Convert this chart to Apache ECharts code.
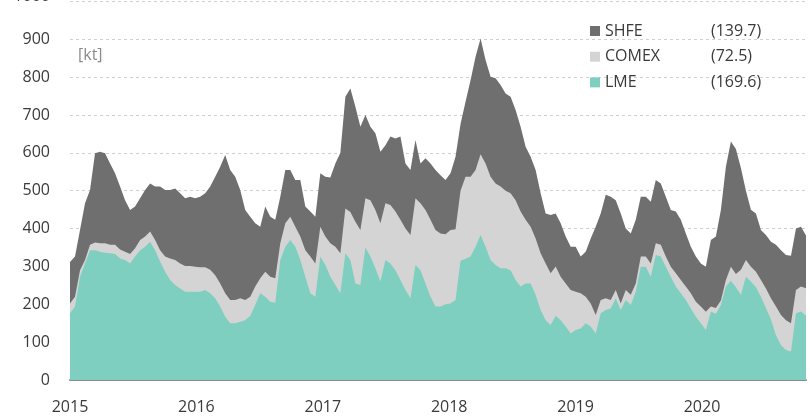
<!DOCTYPE html>
<html lang="en">
<head>
  <meta charset="UTF-8">
  <title>Stocks LME / COMEX / SHFE</title>
  <script src="https://cdn.jsdelivr.net/npm/echarts@6/dist/echarts.min.js"></script>
  <style>
    html, body { margin: 0; padding: 0; background: #fff; }
    #chart { width: 810px; height: 418px; }
  </style>
</head>
<body>
  <div id="chart"></div>
  <script>
    // sampling: regular steps from start of 2015 to end of Oct 2020
    const firstYear = 2015;
    const lastYear = 2020.823;
    const yearTicks = [2015, 2016, 2017, 2018, 2019, 2020];

    // stocks in kt
    const lme = [176, 194, 273, 308, 343, 343, 339, 336, 335, 333, 321, 317, 308, 326, 343, 352, 365, 343, 313, 286,
      264, 251, 242, 233, 233, 233, 233, 238, 229, 216, 194, 167, 150, 150, 154, 158, 170, 198, 229, 220,
      207, 204, 317, 352, 370, 352, 317, 273, 229, 220, 326, 304, 273, 251, 229, 335, 317, 255, 251, 350,
      326, 295, 260, 317, 308, 290, 264, 238, 216, 304, 290, 255, 220, 194, 194, 200, 202, 211, 315, 320,
      326, 352, 383, 352, 317, 304, 295, 295, 290, 264, 247, 255, 255, 225, 185, 158, 145, 170, 158, 141,
      123, 132, 136, 150, 141, 123, 176, 185, 189, 216, 185, 211, 198, 233, 299, 299, 273, 330, 326, 299,
      273, 247, 229, 211, 189, 167, 150, 132, 181, 175, 198, 247, 262, 245, 225, 273, 260, 245, 220, 190,
      160, 118, 92, 79, 75, 176, 181, 169.6];
    const comex = [26, 26, 17, 9, 14, 20, 22, 25, 22, 24, 24, 22, 25, 22, 27, 27, 27, 27, 30, 40,
      57, 66, 66, 68, 68, 66, 65, 60, 62, 61, 61, 62, 61, 61, 62, 53, 50, 49, 40, 66,
      66, 65, 44, 62, 61, 53, 62, 70, 97, 88, 79, 75, 88, 101, 106, 118, 127, 163, 145, 130,
      149, 154, 154, 150, 154, 155, 159, 162, 167, 176, 177, 194, 203, 202, 193, 185, 194, 187, 185, 217,
      211, 203, 213, 220, 220, 215, 216, 205, 203, 211, 198, 168, 150, 149, 150, 150, 137, 130, 115, 114,
      115, 101, 93, 70, 61, 49, 35, 31, 22, 22, 17, 27, 27, 22, 27, 27, 35, 31, 31, 27,
      26, 35, 35, 36, 40, 40, 44, 48, 13, 15, 12, 17, 37, 35, 66, 44, 39, 41, 44, 52,
      56, 76, 80, 79, 75, 62, 66, 72.5];
    const shfe = [110, 106, 106, 150, 145, 236, 242, 238, 215, 189, 166, 136, 116, 110, 110, 123, 127, 141, 168, 176,
      181, 189, 185, 179, 183, 181, 186, 195, 220, 260, 308, 365, 344, 326, 286, 238, 211, 167, 136, 172,
      158, 154, 123, 141, 124, 123, 149, 115, 119, 123, 141, 158, 174, 220, 265, 295, 326, 304, 273, 220,
      194, 203, 189, 153, 181, 193, 220, 172, 172, 154, 105, 137, 149, 159, 154, 143, 150, 192, 176, 198,
      255, 299, 306, 273, 264, 278, 268, 257, 255, 238, 224, 193, 185, 181, 158, 132, 154, 140, 141, 124,
      114, 119, 97, 119, 172, 233, 229, 273, 273, 237, 238, 162, 162, 168, 158, 158, 163, 167, 162, 158,
      150, 163, 159, 140, 123, 119, 114, 119, 176, 189, 239, 299, 331, 330, 269, 183, 151, 154, 132, 141,
      149, 163, 171, 172, 178, 162, 158, 139.7];

    const step = (lastYear - firstYear) / (lme.length - 1);
    const xs = lme.map((v, i) => firstYear + i * step);

    // stacked tops: LME, LME+COMEX, LME+COMEX+SHFE
    const comexTop = lme.map((v, i) => v + comex[i]);
    const shfeTop = comexTop.map((v, i) => v + shfe[i]);
    const pairs = arr => arr.map((v, i) => [xs[i], +v.toFixed(1)]);

    const colors = { LME: '#7fcfc0', COMEX: '#d4d4d4', SHFE: '#6f6f6f' };
    const latest = {
      SHFE: shfe[shfe.length - 1],
      COMEX: comex[comex.length - 1],
      LME: lme[lme.length - 1]
    };

    const chart = echarts.init(document.getElementById('chart'));

    function areaSeries(name, data, z) {
      return {
        name: name,
        type: 'line',
        data: pairs(data),
        z: z,
        itemStyle: { color: colors[name] },
        showSymbol: false,
        symbol: 'none',
        lineStyle: { width: 0, color: colors[name] },
        areaStyle: { color: colors[name], opacity: 1, origin: 'start' },
        emphasis: { disabled: true }
      };
    }

    const option = {
      animation: false,
      textStyle: { fontFamily: 'Open Sans' },
      grid: { left: 70, right: 4, top: 1.4, bottom: 38, containLabel: false, outerBoundsMode: 'none' },
      legend: {
        orient: 'vertical',
        left: 585,
        top: 18,
        icon: 'rect',
        itemWidth: 10,
        itemHeight: 10,
        itemGap: 9.7,
        data: ['SHFE', 'COMEX', 'LME'],
        formatter: name => `{n|${name}}{v|(${latest[name]})}`,
        textStyle: {
          fontFamily: 'Open Sans',
          fontSize: 16,
          color: '#3a3a3a',
          rich: {
            n: { width: 106, fontSize: 16, color: '#3a3a3a', fontFamily: 'Open Sans' },
            v: { fontSize: 16, color: '#3a3a3a', fontFamily: 'Open Sans' }
          }
        }
      },
      graphic: [{
        type: 'text',
        left: 78,
        top: 47,
        z: 10,
        style: { text: '[kt]', fontSize: 16, fill: '#8a8a8a', fontFamily: 'Open Sans' }
      }],
      xAxis: {
        type: 'value',
        min: firstYear,
        max: lastYear,
        interval: 1,
        axisLine: { show: true, lineStyle: { color: '#8a8a8a', width: 2 } },
        axisTick: { show: false },
        splitLine: { show: false },
        axisLabel: {
          margin: 19,
          fontSize: 16,
          color: '#3a3a3a',
          showMaxLabel: false,
          formatter: v => yearTicks.includes(v) ? String(v) : ''
        }
      },
      yAxis: {
        type: 'value',
        min: 0,
        max: 1000,
        interval: 100,
        axisLine: { show: false },
        axisTick: { show: false },
        axisLabel: {
          margin: 20,
          fontSize: 16,
          color: '#3a3a3a',
          // the top label sits mostly above the picture
          formatter: v => v === 1000 ? '{top|1000}' : String(v),
          rich: { top: { fontSize: 16, color: '#3a3a3a', padding: [0, 0, 9, 0] } }
        },
        splitLine: { lineStyle: { color: '#d0d0d0', type: [3, 3], width: 1 } }
      },
      series: [
        areaSeries('SHFE', shfeTop, 2),
        areaSeries('COMEX', comexTop, 3),
        areaSeries('LME', lme, 4)
      ]
    };

    chart.setOption(option);
  </script>
</body>
</html>
